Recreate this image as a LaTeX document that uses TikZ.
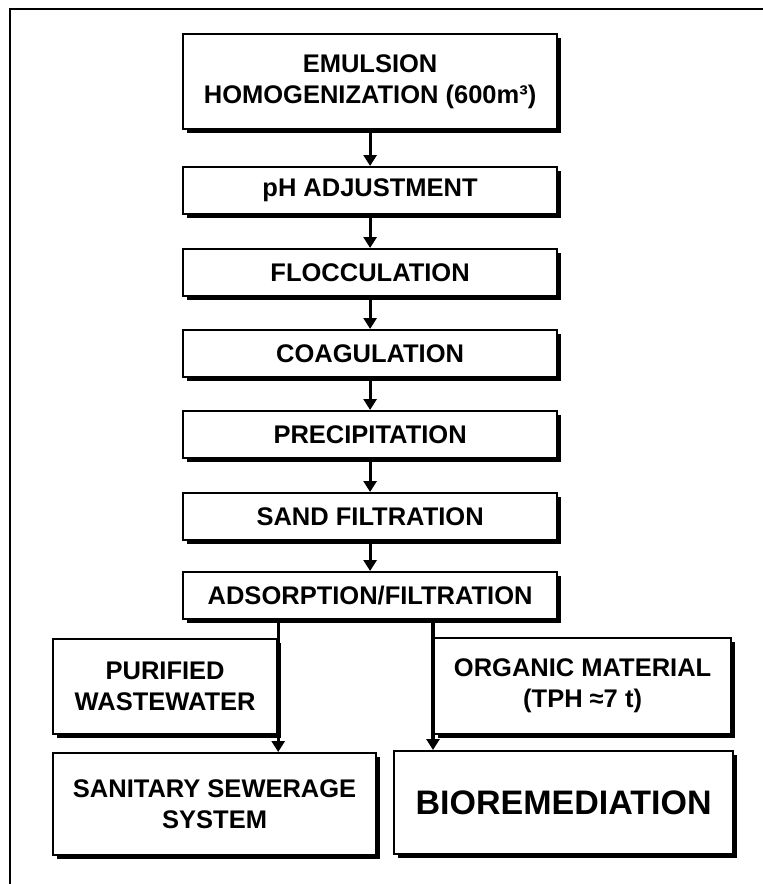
\documentclass[tikz,border=0pt]{standalone}
\usepackage{fontspec}
\setmainfont{Liberation Sans}
\usetikzlibrary{arrows.meta,shadows}
\begin{document}
\begin{tikzpicture}[x=1pt,y=-1pt,
  box/.style={draw=black,line width=2.2pt,fill=white,inner sep=0pt,anchor=north west,align=center,
    font=\bfseries\fontsize{25.5}{31}\selectfont,
    drop shadow={shadow xshift=3.5pt,shadow yshift=-3.5pt,fill=black,opacity=1}},
  mainbox/.style={box,minimum width=374pt,minimum height=47pt},
  arr/.style={line width=3.2pt,-{Triangle[width=13pt,length=11pt]}},
  framel/.style={line width=2pt}]
\useasboundingbox (0,0) rectangle (763,884);
% frame
\coordinate (fr1) at (763,9);
\coordinate (fr2) at (10,9);
\coordinate (fr3) at (10,884);
\draw[framel] (fr1) -- (fr2) -- (fr3);
% main column
\node[mainbox,minimum height=95pt] (b1) at (182,33) {EMULSION\\HOMOGENIZATION (600m³)};
\node[mainbox] (b2) at (182,166) {pH ADJUSTMENT};
\node[mainbox] (b3) at (182,248) {FLOCCULATION};
\node[mainbox] (b4) at (182,329) {COAGULATION};
\node[mainbox] (b5) at (182,410) {PRECIPITATION};
\node[mainbox] (b6) at (182,492) {SAND FILTRATION};
\node[mainbox] (b7) at (182,571) {ADSORPTION/FILTRATION};
% outputs
\node[box,minimum width=224pt,minimum height=95pt] (pur) at (52,638) {PURIFIED\\WASTEWATER};
\node[box,minimum width=297pt,minimum height=96pt] (org) at (433,637) {ORGANIC MATERIAL\\(TPH ≈7 t)};
\node[box,minimum width=323pt,minimum height=102pt] (san) at (52,752) {SANITARY SEWERAGE\\SYSTEM};
\node[box,minimum width=339pt,minimum height=103pt,font=\bfseries\fontsize{34}{40}\selectfont] (bio) at (393,750) {BIOREMEDIATION};
% connectors
\draw[arr] (b1.south) -- (b2.north);
\draw[arr] (b2.south) -- (b3.north);
\draw[arr] (b3.south) -- (b4.north);
\draw[arr] (b4.south) -- (b5.north);
\draw[arr] (b5.south) -- (b6.north);
\draw[arr] (b6.south) -- (b7.north);
\draw[arr] (b7.south -| pur.east) -- (san.north -| pur.east);
\draw[arr] (b7.south -| org.west) -- (bio.north -| org.west);
\end{tikzpicture}
\end{document}
